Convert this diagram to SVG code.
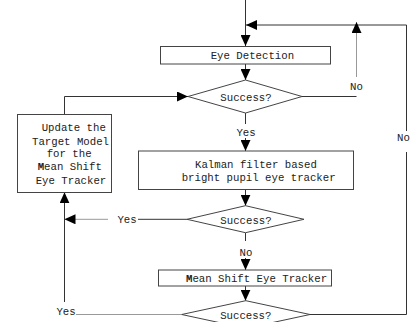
<svg xmlns="http://www.w3.org/2000/svg" width="411" height="322" viewBox="0 0 411 322">
<style>
.box{fill:#fff;stroke:#444;stroke-width:1}
.dia{fill:#fff;stroke:#444;stroke-width:1}
.ln{fill:none;stroke:#333;stroke-width:1}
.lt{fill:none;stroke:#999;stroke-width:1}
text{font-family:"Liberation Mono","DejaVu Sans Mono",monospace;font-size:10.7px;fill:#222}
.m{text-anchor:middle}
.b{font-weight:bold}
</style>
<defs>
<marker id="ah" markerUnits="userSpaceOnUse" markerWidth="11" markerHeight="10" refX="11" refY="5" orient="auto">
<path d="M0,0 L11,5 L0,10 Z" fill="#000"/>
</marker>
</defs>
<rect width="411" height="322" fill="#fff"/>
<g id="connectors">
<path class="ln" d="M245.5,0 V46" marker-end="url(#ah)"/>
<path class="ln" d="M310,314.5 H406.5 V152"/>
<path class="ln" d="M406.5,131 V25 H246" marker-end="url(#ah)"/>
<path class="ln" d="M245.5,64 V80" marker-end="url(#ah)"/>
<path class="ln" d="M302,96.5 H356.5"/>
<path class="lt" d="M356.5,77 V22" marker-end="url(#ah)"/>
<path class="ln" d="M245.5,113 V124"/>
<path class="ln" d="M245.5,138 V151" marker-end="url(#ah)"/>
<path class="ln" d="M64.5,114 V96.5 H188" marker-end="url(#ah)"/>
<path class="ln" d="M245.5,189.5 V205.7" marker-end="url(#ah)"/>
<path class="ln" d="M245.5,232.7 V241"/>
<path class="ln" d="M245.5,258 V270" marker-end="url(#ah)"/>
<path class="ln" d="M187,219.3 H138"/>
<path class="lt" d="M108,219.3 H64.5" marker-end="url(#ah)"/>
<path class="ln" d="M245.5,286 V300.7" marker-end="url(#ah)"/>
<path class="lt" d="M181.7,314.5 H76"/>
<path class="ln" d="M64.5,302 V192.3" marker-end="url(#ah)"/>
</g>
<g id="labels">
<text class="m" x="246" y="136">Yes</text>
<text class="m" x="356.5" y="89.5">No</text>
<text class="m" x="403.5" y="141">No</text>
<text class="m" x="127" y="223">Yes</text>
<text class="m" x="246" y="255.5">No</text>
<text class="m" x="66" y="315">Yes</text>
</g>
<g id="eye-detection">
<rect class="box" x="160.5" y="46.5" width="170" height="17.5"/>
<text x="210.7" y="59">Eye Detection</text>
</g>
<g id="success1">
<polygon class="dia" points="188,96.5 245.5,80 302,96.5 245.5,113"/>
<text class="m" x="246" y="100.5">Success?</text>
</g>
<g id="update-model">
<rect class="box" x="17.5" y="114.5" width="94" height="78"/>
<text x="41.7" y="131">Update the</text>
<text x="32" y="144.5">Target Model</text>
<text x="46.7" y="157">for the</text>
<text x="37.7" y="170"><tspan class="b">M</tspan>ean Shift</text>
<text x="35.7" y="183.5">Eye Tracker</text>
</g>
<g id="kalman">
<rect class="box" x="138.5" y="151" width="215" height="38.5"/>
<text x="195" y="168">Kalman filter based</text>
<text x="181.7" y="181">bright pupil eye tracker</text>
</g>
<g id="success2">
<polygon class="dia" points="187,219.3 245.5,205.7 304,219.3 245.5,232.7"/>
<text class="m" x="246" y="223.5">Success?</text>
</g>
<g id="mean-shift">
<rect class="box" x="158.5" y="270" width="173" height="16"/>
<text x="186" y="281.5"><tspan class="b">M</tspan>ean Shift Eye Tracker</text>
</g>
<g id="success3">
<polygon class="dia" points="181.7,314.5 245.8,300.7 310,314.5 245.8,328.3"/>
<text class="m" x="245.8" y="318.5">Success?</text>
</g>
</svg>
